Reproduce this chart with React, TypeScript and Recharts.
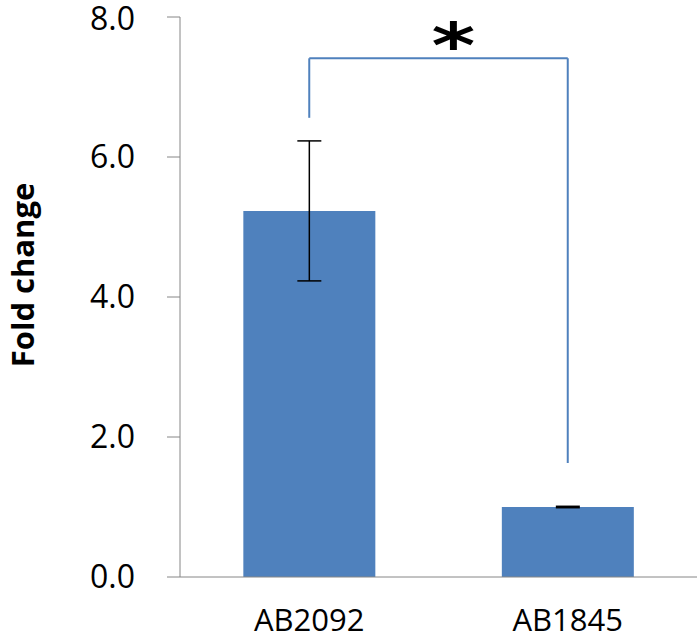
import { Bar, BarChart, ErrorBar, ReferenceLine, XAxis, YAxis } from "recharts";

const strains = ["AB2092", "AB1845"];
const foldChange = [5.23, 1.0];
const stdError = [1.0, 0.01];
const yTicks = [0, 2, 4, 6, 8];

// significance bracket (y values in fold change units)
const bracketTop = 7.41;
const bracketLeftEnd = 6.56;
const bracketRightEnd = 1.63;

const data = strains.map((name, i) => ({ name, value: foldChange[i], err: stdError[i] }));

const FONT = "'Open Sans', sans-serif";
const AXIS = "#868686";
const BLUE = "#4F81BD";

function Star({ viewBox }: any) {
  if (!viewBox) return null;
  const cx = viewBox.x + viewBox.width / 2 + 15;
  const by = viewBox.y + 9;
  return (
    <text
      x={0}
      y={0}
      transform={`translate(${cx} ${by}) scale(1.35 1)`}
      textAnchor="middle"
      fontFamily="'DejaVu Sans', sans-serif"
      fontWeight="bold"
      fontSize={62}
      fill="#000"
    >
      *
    </text>
  );
}

function YLabel({ viewBox }: any) {
  if (!viewBox) return null;
  const x = viewBox.x + 22;
  const y = viewBox.y + viewBox.height / 2 - 22;
  return (
    <text x={x} y={y} transform={`rotate(-90 ${x} ${y})`} textAnchor="middle" dominantBaseline="central" fontFamily={FONT} fontWeight="bold" fontSize={31} fill="#000">
      Fold change
    </text>
  );
}

export default function App() {
  return (
    <div style={{ position: "absolute", left: 0, top: 0, background: "#fff" }}>
      <BarChart width={700} height={641} data={data} margin={{ top: 17, right: 3, bottom: 34, left: 0 }} barCategoryGap="24.5%">
        <XAxis
          dataKey="name"
          height={30}
          stroke={AXIS}
          tickLine={false}
          tickSize={0}
          tickMargin={32}
          tick={{ fontSize: 31, fill: "#000", fontFamily: FONT }}
        />
        <YAxis
          type="number"
          domain={[0, 8]}
          ticks={yTicks}
          width={180}
          stroke={AXIS}
          tickSize={13}
          tickMargin={32}
          tickFormatter={(v: number) => v.toFixed(1)}
          tick={{ fontSize: 32, fill: "#000", fontFamily: FONT }}
          label={<YLabel />}
        />
        <Bar dataKey="value" fill={BLUE} isAnimationActive={false}>
          <ErrorBar dataKey="err" width={12} stroke="#000" strokeWidth={1.5} direction="y" />
        </Bar>
        <ReferenceLine
          segment={[{ x: strains[0], y: bracketTop }, { x: strains[1], y: bracketTop }]}
          stroke={BLUE}
          strokeWidth={2}
          label={<Star />}
        />
        <ReferenceLine
          segment={[{ x: strains[0], y: bracketTop }, { x: strains[0], y: bracketLeftEnd }]}
          stroke={BLUE}
          strokeWidth={2}
        />
        <ReferenceLine
          segment={[{ x: strains[1], y: bracketTop }, { x: strains[1], y: bracketRightEnd }]}
          stroke={BLUE}
          strokeWidth={2}
        />
      </BarChart>
    </div>
  );
}
